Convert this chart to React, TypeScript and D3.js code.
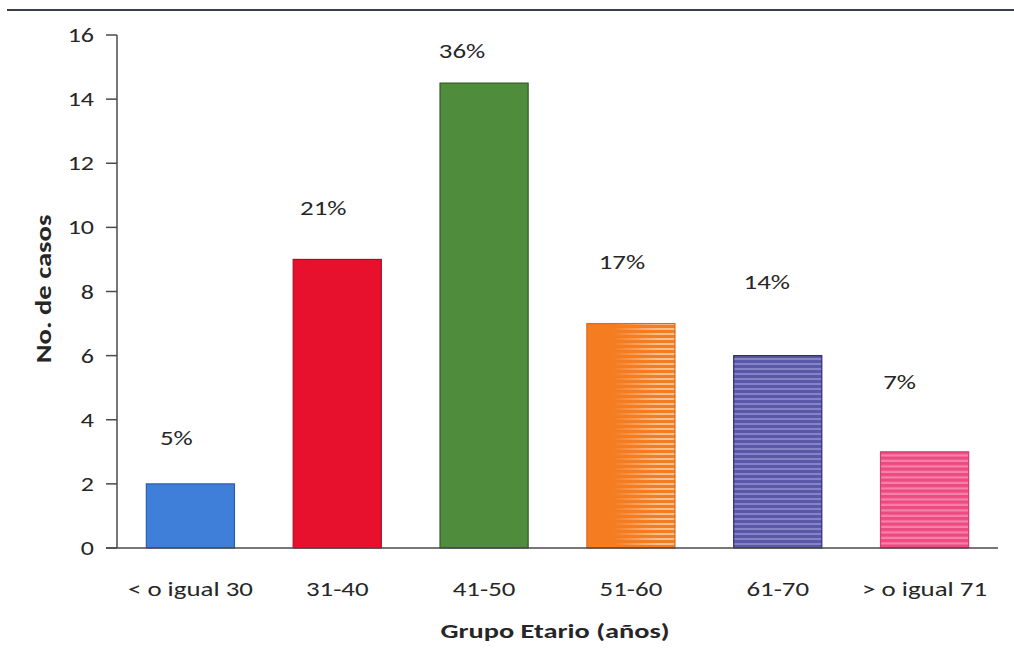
import React from "react";
import * as d3 from "d3";

// Age groups and number of cases per group
const categories = ["< o igual 30", "31-40", "41-50", "51-60", "61-70", "> o igual 71"];
const casos = [2, 9, 14.5, 7, 6, 3];
const porcentajes = ["5%", "21%", "36%", "17%", "14%", "7%"];
const yTicks = [0, 2, 4, 6, 8, 10, 12, 14, 16];

// Manual placement of the percentage labels relative to each bar (px)
const labelDx = [-14, -14, -22, -9, -11, -25];
const labelDy = [46, 52, 32, 62, 74, 70];

const W = 1014;
const H = 666;
const margin = { left: 117, right: 16, top: 35, bottom: 118 };
const FONT = "Calibri, Carlito, Lato, 'Liberation Sans', sans-serif";

const barStyles = [
  { fill: "#3f7fda", stroke: "#2c5ea8" },
  { fill: "#e8112d", stroke: "#b30c22" },
  { fill: "#4f8d3d", stroke: "#2f5a25" },
  { fill: "#f47d22", stroke: "#e0691a" },
  { fill: "url(#stripePurple)", stroke: "#2f2d72" },
  { fill: "url(#stripePink)", stroke: "#d83c72" },
];

type TProps = {
  x: number;
  y: number;
  size: number;
  sx?: number;
  rotate?: number;
  anchor?: "start" | "middle" | "end";
  weight?: string;
  fill?: string;
  children: React.ReactNode;
};

// Text with a horizontal stretch, used for every label in the chart
function T({ x, y, size, sx = 1.25, rotate = 0, anchor = "middle", weight = "normal", fill = "#262626", children }: TProps) {
  return (
    <text
      transform={`translate(${x},${y}) rotate(${rotate}) scale(${sx},1)`}
      dy="0.35em"
      textAnchor={anchor}
      fontFamily={FONT}
      fontSize={size}
      fontWeight={weight}
      fill={fill}
    >
      {children}
    </text>
  );
}

export default function App() {
  const x = d3
    .scaleBand<string>()
    .domain(categories)
    .range([margin.left, W - margin.right])
    .paddingInner(0.4)
    .paddingOuter(0.2);
  const y = d3
    .scaleLinear()
    .domain([0, 16])
    .range([H - margin.bottom, margin.top]);
  const y0 = y(0);
  const axisColor = "#4a4a4a";

  return (
    <svg
      width={W}
      height={H}
      style={{ position: "absolute", left: 0, top: 0, background: "#fff" }}
    >
      <defs>
        <pattern id="stripePurple" width="6" height="5" patternUnits="userSpaceOnUse">
          <rect width="6" height="5" fill="#5a58a8" />
          <rect y="3" width="6" height="2" fill="#8583c6" />
        </pattern>
        <pattern id="stripePink" width="6" height="5.5" patternUnits="userSpaceOnUse">
          <rect width="6" height="5.5" fill="#ee4a82" />
          <rect y="3.3" width="6" height="2.2" fill="#f683aa" />
        </pattern>
        <pattern id="stripeOrangeLight" width="6" height="5" patternUnits="userSpaceOnUse">
          <rect width="6" height="5" fill="#f47d22" />
          <rect y="3" width="6" height="2" fill="#fbc08f" />
        </pattern>
        <linearGradient id="orangeFade" x1="0" x2="1" y1="0" y2="0">
          <stop offset="0.3" stopColor="#fff" stopOpacity="0" />
          <stop offset="0.8" stopColor="#fff" stopOpacity="1" />
        </linearGradient>
        <mask id="orangeMask" maskContentUnits="objectBoundingBox">
          <rect width="1" height="1" fill="url(#orangeFade)" />
        </mask>
      </defs>

      {/* top rule */}
      <line x1={7} x2={W} y1={10} y2={10} stroke="#3a3d4a" strokeWidth={2} />

      {/* bars */}
      {casos.map((v, i) => {
        const bx = x(categories[i])!;
        const by = y(v);
        const bw = x.bandwidth();
        const bh = y0 - by;
        return (
          <g key={categories[i]}>
            <rect x={bx} y={by} width={bw} height={bh} fill={barStyles[i].fill} />
            {i === 3 && (
              <rect
                x={bx}
                y={by}
                width={bw}
                height={bh}
                fill="url(#stripeOrangeLight)"
                mask="url(#orangeMask)"
              />
            )}
            <rect
              x={bx}
              y={by}
              width={bw}
              height={bh}
              fill="none"
              stroke={barStyles[i].stroke}
              strokeWidth={1.2}
            />
          </g>
        );
      })}

      {/* y axis */}
      <line x1={margin.left} x2={margin.left} y1={y(16)} y2={y0} stroke={axisColor} strokeWidth={1.5} />
      {yTicks.map((t) => (
        <g key={t}>
          <line x1={margin.left - 11} x2={margin.left} y1={y(t)} y2={y(t)} stroke={axisColor} strokeWidth={1.5} />
          <T x={margin.left - 23} y={y(t)} size={20} sx={1.3} anchor="end">
            {t}
          </T>
        </g>
      ))}

      {/* x axis */}
      <line x1={margin.left - 11} x2={W - margin.right} y1={y0} y2={y0} stroke={axisColor} strokeWidth={1.5} />
      {categories.map((c) => (
        <T key={c} x={x(c)! + x.bandwidth() / 2} y={589} size={21} sx={1.28}>
          {c}
        </T>
      ))}

      {/* percentage labels */}
      {casos.map((v, i) => (
        <T
          key={porcentajes[i]}
          x={x(categories[i])! + x.bandwidth() / 2 + labelDx[i]}
          y={y(v) - labelDy[i]}
          size={21}
          sx={1.28}
        >
          {porcentajes[i]}
        </T>
      ))}

      {/* axis titles */}
      <T x={555} y={631} size={21} sx={1.35} weight="bold">
        Grupo Etario (años)
      </T>
      <T x={43} y={289} size={22} sx={1.3} rotate={-90} weight="bold">
        No. de casos
      </T>
    </svg>
  );
}
